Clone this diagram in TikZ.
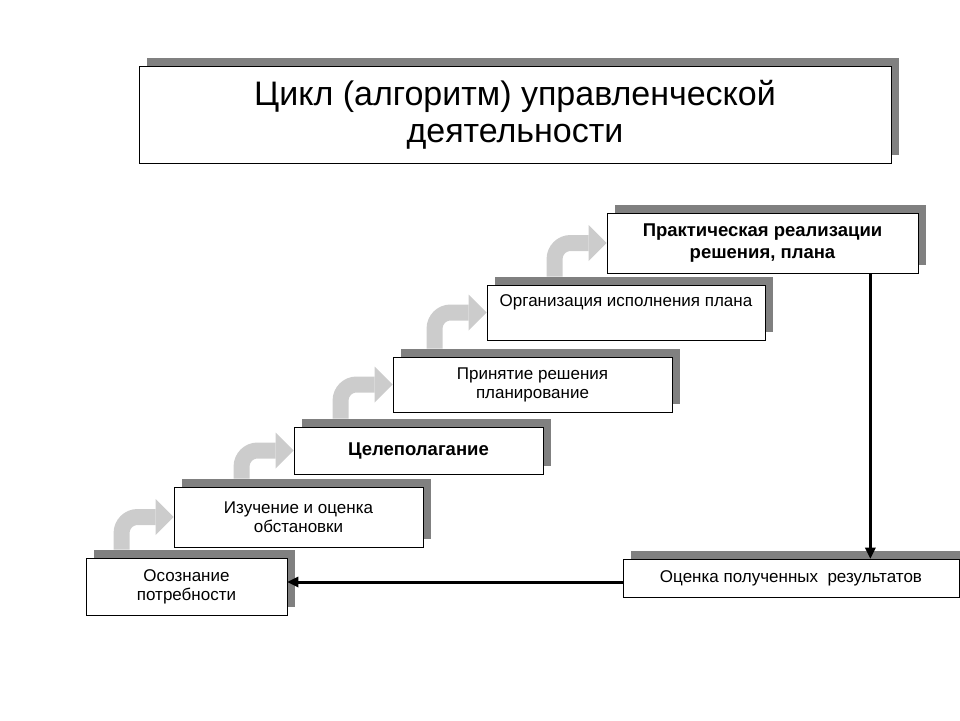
\documentclass[tikz,border=0pt]{standalone}
\usepackage{fontspec}
\setmainfont{Liberation Sans}
\usetikzlibrary{shadows,arrows.meta,calc}

\begin{document}
\begin{tikzpicture}[x=1pt,y=-1pt,
    box/.style={draw, line width=0.8pt, fill=white, align=center, inner sep=0pt,
        general shadow={fill=black!50, shadow xshift=8pt, shadow yshift=8pt}},
    txt/.style={font=\fontsize{17}{19}\selectfont},
    bold/.style={font=\bfseries\fontsize{18.5}{22}\selectfont},
    stair/.style={draw=black!20, line width=16pt, rounded corners=16pt,
        -{Triangle[width=36pt,length=18pt,line width=0pt]}},
    back/.style={line width=3pt, -{Triangle[width=11pt,length=11pt,line width=0pt]}}]
    \useasboundingbox (0,0) rectangle (960,720);
    \node[box, minimum width=752pt, minimum height=97pt, font=\fontsize{34}{37}\selectfont] (t) at (515,114.5) {Цикл (алгоритм) управленческой\\деятельности};
    \node[box, txt, minimum width=201pt, minimum height=57pt] (1) at (186.5,586.5) {Осознание\\потребности};
    \node[box, txt, minimum width=249pt, minimum height=60pt] (2) at (298.5,517) {Изучение и оценка\\обстановки};
    \node[box, bold, minimum width=249pt, minimum height=47pt] (3) at (418.5,450.5) {Целеполагание};
    \node[box, txt, minimum width=279pt, minimum height=55pt] (4) at (532.5,384.5) {Принятие решения\\планирование};
    \node[box, txt, minimum width=278pt, minimum height=55pt] (5) at (626,312.5) {Организация исполнения плана\\\strut};
    \node[box, bold, minimum width=311pt, minimum height=60pt] (6) at (762.5,243) {Практическая реализации\\решения, плана};
    \node[box, txt, minimum width=336pt, minimum height=38pt] (7) at (791,578) {Оценка полученных\ \ результатов};
    % steps
    \draw[stair] ($(2.west |- 1.north)+(-52pt,8pt)$) |- (2.west);
    \draw[stair] ($(3.west |- 2.north)+(-52pt,8pt)$) |- (3.west);
    \draw[stair] ($(4.west |- 3.north)+(-52pt,8pt)$) |- (4.west);
    \draw[stair] ($(5.west |- 4.north)+(-52pt,8pt)$) |- (5.west);
    \draw[stair] ($(6.west |- 5.north)+(-52pt,8pt)$) |- (6.west);
    % back to start
    \coordinate (d) at ([xshift=-48pt]6.south east);
    \coordinate (e) at ([yshift=-4pt]7.west);
    \draw[back] (d) -- (d |- 7.north);
    \draw[back] (e) -- (e -| 1.east);
\end{tikzpicture}
\end{document}
